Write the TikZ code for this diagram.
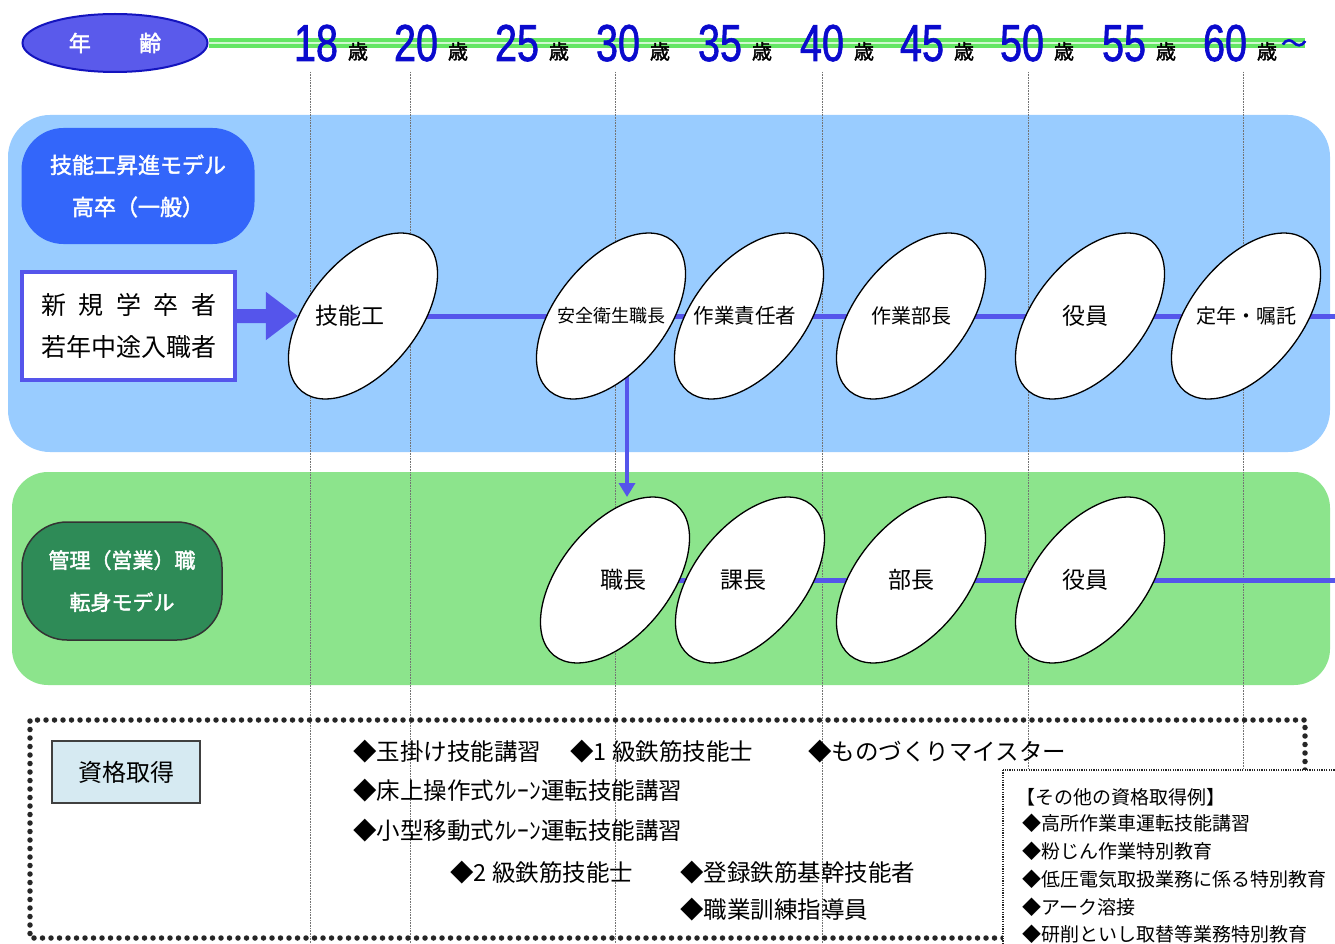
\documentclass[tikz,border=0pt]{standalone}
\usepackage{fontspec}
\setmainfont{Noto Sans CJK JP}
\newfontfamily\agefont[FakeStretch=0.76, FakeBold=1.2]{Liberation Sans}
\newfontfamily\jpbold[FakeBold=2]{Noto Sans CJK JP}
\usepackage{xcolor}
\usepackage{tikz}
\usetikzlibrary{shapes.geometric, positioning, arrows.meta}

\definecolor{bandblue}{RGB}{153,204,255}
\definecolor{modelblue}{RGB}{51,102,250}
\definecolor{agefill}{RGB}{90,90,235}
\definecolor{ageline}{RGB}{20,20,190}
\definecolor{agenum}{RGB}{10,10,205}
\definecolor{flowblue}{RGB}{85,85,235}
\definecolor{bandgreen}{RGB}{140,228,140}
\definecolor{modelgreen}{RGB}{46,139,87}
\definecolor{timegreen}{RGB}{100,230,100}
\definecolor{qualfill}{RGB}{214,234,242}

\pgfdeclarelayer{back}
\pgfdeclarelayer{mid}
\pgfsetlayers{back,mid,main}

\newcommand{\fs}[1]{\fontsize{#1}{#1}\selectfont}

\begin{document}
\begin{tikzpicture}[x=1pt, y=-1pt,
  every node/.style={inner sep=0pt, font=\fs{23}},
  oval/.style={ellipse, draw=black, line width=1.3pt, fill=white,
    minimum width=194pt, minimum height=110pt, rotate=51},
  stagetxt/.style={font=\fs{22}},
  model/.style={rounded corners=42pt, text=white, align=center},
  agenum/.style={anchor=base, text=agenum, font=\agefont\fontsize{52}{52}\selectfont},
  sai/.style={anchor=base, font=\jpbold\fs{20}},
  grid/.style={draw=black!55, densely dotted, line width=0.6pt},
  timeline/.style={draw=timegreen, line width=3.5pt, double=timegreen!30, double distance=2.5pt},
  flow/.style={draw=flowblue, line width=5pt},
  bigarr/.style={draw=flowblue, line width=14pt, -{Triangle[length=32pt, width=46pt]}},
  downarr/.style={draw=flowblue, line width=4pt, -{Triangle[length=14pt, width=16pt]}},
  dotbox/.style={draw=black!85, line width=5.5pt, line cap=round, dash pattern=on 0pt off 8.5pt},
  item/.style={anchor=west, font=\fs{23.5}},
  other/.style={anchor=west, font=\fs{19}},
]
\useasboundingbox (0,0) rectangle (1335,944);

\begin{pgfonlayer}{back}
  \fill[white] (0,0) rectangle (1335,944);
  \fill[bandblue, rounded corners=42pt] (8,115) rectangle (1330,452);
  \fill[bandgreen, rounded corners=36pt] (12,472) rectangle (1330,685);
  \foreach \gx in {310,410,615,822,1028,1243}
    \draw[grid] (\gx,72) -- (\gx,944);
\end{pgfonlayer}

\node[ellipse, draw=ageline, line width=2pt, fill=agefill, text=white,
  minimum width=185pt, minimum height=58pt, font=\jpbold\fs{22}] (age) at (115,43) {年\hspace{2.2em}齢};
\coordinate (tlend) at (1305,43);

\foreach \a/\ax in {18/316,20/416,25/517,30/618,35/720,40/822,45/922,50/1022,55/1124,60/1225}{
  \node[agenum] (a\a) at (\ax,61) {\a};
  \node[sai] (s\a) at (\ax+42,59) {歳};
}
\node[text=agenum, font=\jpbold\fs{26}] (tilde) at (1294,46) {〜};

\node[model, fill=modelblue, minimum width=233pt, minimum height=116pt,
  font=\jpbold\fontsize{22}{42}\selectfont] (upmodel) at (138,186) {技能工昇進モデル\\高卒（一般）};
\node[draw=flowblue, line width=4pt, fill=white, minimum width=213pt, minimum height=108pt,
  align=center, font=\fontsize{25}{42}\selectfont] (src) at (128.5,326)
  {新\hspace{0.5em}規\hspace{0.5em}学\hspace{0.5em}卒\hspace{0.5em}者\\若年中途入職者};

\node[oval] (k1) at (363,316) {};
\node[oval] (k2) at (611,316) {};
\node[oval] (k3) at (749,316) {};
\node[oval] (k4) at (911,316) {};
\node[oval] (k5) at (1090,316) {};
\node[oval] (k6) at (1246,316) {};
\coordinate (endU) at (1335,316);

\node[stagetxt, font=\fs{23}] (k1t) at ([xshift=-13pt]k1.center) {技能工};
\node[stagetxt, font=\fs{18}] (k2t) at (k2.center) {安全衛生職長};
\node[stagetxt, font=\fs{20.5}] (k3t) at ([xshift=-4pt]k3.center) {作業責任者};
\node[stagetxt, font=\fs{20}] (k4t) at (k4.center) {作業部長};
\node[stagetxt, font=\fs{23}] (k5t) at ([xshift=-5pt]k5.center) {役員};
\node[stagetxt, font=\fs{20}] (k6t) at (k6.center) {定年・嘱託};

\node[model, fill=modelgreen, draw=black!80, line width=1.5pt, minimum width=200pt,
  minimum height=118pt, rounded corners=45pt, font=\jpbold\fontsize{21}{42}\selectfont] (lowmodel)
  at (122,581) {管理（営業）職\\転身モデル};

\node[oval] (m1) at (615,580) {};
\node[oval] (m2) at (750,580) {};
\node[oval] (m3) at (911,580) {};
\node[oval] (m4) at (1090,580) {};
\coordinate (endL) at (1335,580);
\coordinate (dnend) at (627,497);

\node[stagetxt, font=\fs{23}] (m1t) at ([xshift=8pt]m1.center) {職長};
\node[stagetxt, font=\fs{23}] (m2t) at ([xshift=-7pt]m2.center) {課長};
\node[stagetxt, font=\fs{23}] (m3t) at (m3.center) {部長};
\node[stagetxt, font=\fs{23}] (m4t) at ([xshift=-5pt]m4.center) {役員};

\begin{pgfonlayer}{mid}
  \draw[timeline] (age.east) -- (tlend);
  \draw[flow] (k1.center) -- (k2.center) -- (k3.center) -- (k4.center) -- (k5.center) -- (k6.center) -- (endU);
  \draw[flow] (m1.center) -- (m2.center) -- (m3.center) -- (m4.center) -- (endL);
  \draw[bigarr] (src.east |- k1.center) -- (k1);
  \draw[downarr] ([xshift=16pt]k2.center) -- (dnend);
  \draw[dotbox] (1003,938) -- (30,938) -- (30,720) -- (1305,720) -- (1305,770);
\end{pgfonlayer}

\node[draw=black!75, line width=2pt, fill=qualfill, minimum width=148pt, minimum height=62pt,
  font=\fs{24}] (qual) at (126,772) {資格取得};

\node[item] (q1) at (353,752) {◆玉掛け技能講習};
\node[item] (q2) at (570,752) {◆1 級鉄筋技能士};
\node[item] (q3) at (808,752) {◆ものづくりマイスター};
\node[item] (q4) at (353,791) {◆床上操作式ｸﾚｰﾝ運転技能講習};
\node[item] (q5) at (353,831) {◆小型移動式ｸﾚｰﾝ運転技能講習};
\node[item] (q6) at (450,873) {◆2 級鉄筋技能士};
\node[item] (q7) at (680,873) {◆登録鉄筋基幹技能者};
\node[item] (q8) at (680,910) {◆職業訓練指導員};

\draw[fill=white, draw=black!85, line width=1.2pt, dash pattern=on 1.2pt off 1.2pt]
  (1003,770) rectangle (1345,955);
\node[other] (o0) at (1016,797) {【その他の資格取得例】};
\node[other] (o1) at (1022,823) {◆高所作業車運転技能講習};
\node[other] (o2) at (1022,851) {◆粉じん作業特別教育};
\node[other] (o3) at (1022,879) {◆低圧電気取扱業務に係る特別教育};
\node[other] (o4) at (1022,907) {◆アーク溶接};
\node[other] (o5) at (1022,934) {◆研削といし取替等業務特別教育};
\end{tikzpicture}
\end{document}
